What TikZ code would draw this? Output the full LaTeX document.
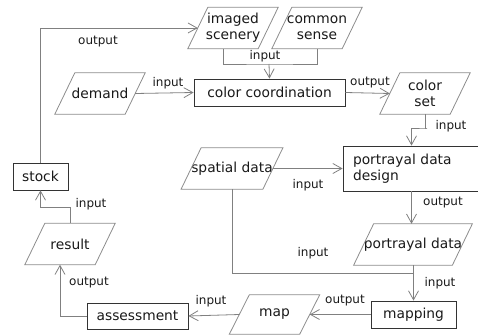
\documentclass[tikz,border=0pt]{standalone}
\usepackage{fontspec}
\setmainfont{DejaVu Sans}
\usetikzlibrary{arrows.meta}
\newcommand\drawpara[1]{\draw[pline] ([xshift=-10pt]#1.south west) -- ([xshift=10pt]#1.north west) -- ([xshift=10pt]#1.north east) -- ([xshift=-10pt]#1.south east) -- cycle;}
\begin{document}
\begin{tikzpicture}[x=1pt,y=-1pt,
  every node/.style={font=\fontsize{13.8}{16}\selectfont, text=black!90},
  para/.style={rectangle, minimum width=70pt, minimum height=41pt, inner sep=0pt, align=center},
  pline/.style={draw=gray!90, line width=0.8pt},
  box/.style={draw=black!80, rectangle, inner sep=0pt, line width=0.8pt},
  conn/.style={draw=gray, line width=0.8pt},
  arr/.style={conn, -{Straight Barb[length=9pt,width=10pt]}},
  lab/.style={font=\fontsize{12}{14}\selectfont, inner sep=0pt},
]
\useasboundingbox (0,0) rectangle (478,336);

% nodes
\node[para] (imaged) at (233,28) {imaged\\scenery};
\node[para] (common) at (317,28) {common\\sense};
\node[para] (demand) at (100,93.5) {demand};
\node[box, minimum width=151pt, minimum height=27pt] (coord) at (269.5,92.5) {color coordination};
\node[para] (colorset) at (425,93.5) {color\\set};
\node[para] (spatial) at (232,168.5) {spatial data};
\node[box, minimum height=45pt, align=left, text width=117pt, inner xsep=10pt] (pdd) at (411.5,168.5) {portrayal data\\design};
\node[para] (portrayal) at (413,244.5) {portrayal data};
\node[box, minimum width=55pt, minimum height=27pt] (stock) at (40.5,176.5) {stock};
\node[para] (result) at (70,244) {result};
\node[box, minimum width=101pt, minimum height=26pt] (assess) at (137.5,316) {assessment};
\node[para, minimum height=39pt] (map) at (274.5,314.5) {map};
\node[box, minimum width=85pt, minimum height=27pt] (mapping) at (413.5,314.5) {mapping};

\drawpara{imaged}
\drawpara{common}
\drawpara{demand}
\drawpara{colorset}
\drawpara{spatial}
\drawpara{portrayal}
\drawpara{result}
\drawpara{map}

% junction coordinates
\coordinate (j1) at (269,64);
\coordinate (j2) at (427,128);
\coordinate (j3) at (413.5,273);
\coordinate (j4) at (70,207);

% connectors
\draw[arr] (stock.north) |- (imaged.west);
\draw[conn] ([xshift=-10pt]imaged.south) |- (j1) -| (common.south);
\draw[arr] (j1) -- (coord.north);
\draw[arr] (demand.east) -- (coord.west);
\draw[arr] (coord.east) -- (colorset.west);
\draw[arr] (colorset.south) |- (j2) -| (pdd.north);
\draw[arr] (spatial.east) -- (pdd.west);
\draw[arr] (pdd.south) -- (pdd.south |- portrayal.north);
\draw[conn] (spatial.south) |- (j3);
\draw[arr] (mapping.north |- portrayal.south) -- (mapping.north);
\draw[arr] (mapping.west) -- (map.east);
\draw[arr] (map.west) -- (assess.east);
\draw[arr] (assess.west) -| ([xshift=-10pt]result.south);
\draw[arr] (result.north) -- (j4) -| (stock.south);

% labels
\node[lab] (l1) at (98,42) {output};
\node[lab] (l2) at (265,56) {input};
\node[lab] (l3) at (168,83) {input};
\node[lab] (l4) at (370,83) {output};
\node[lab] (l5) at (451,126) {input};
\node[lab] (l6) at (308,185) {input};
\node[lab] (l7) at (443,203) {output};
\node[lab] (l8) at (313,253) {input};
\node[lab] (l9) at (440,283) {input};
\node[lab] (l10) at (345,301) {output};
\node[lab] (l11) at (211,301) {input};
\node[lab] (l12) at (89,283) {output};
\node[lab] (l13) at (91,204) {input};
\end{tikzpicture}
\end{document}
